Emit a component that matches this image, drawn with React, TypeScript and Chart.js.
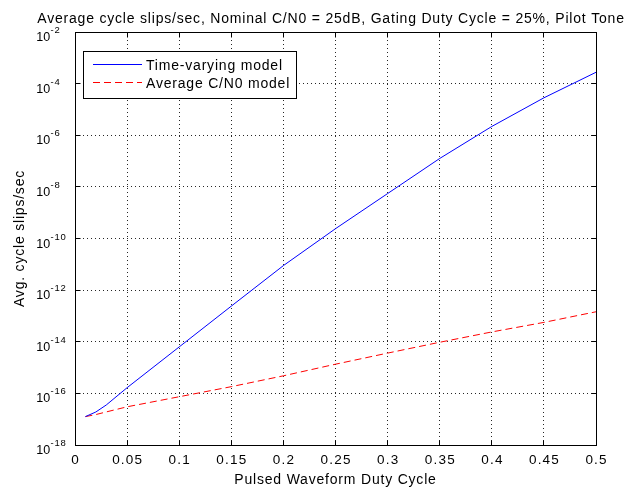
import React, { useEffect, useRef } from "react";
import { Chart, registerables } from "chart.js";

Chart.register(...registerables);

// Pulsed waveform duty cycle (x) and average cycle slips per second for both models
const dutyCycle = [0.01, 0.02, 0.03, 0.05, 0.1, 0.15, 0.2, 0.25, 0.3, 0.35, 0.4, 0.45, 0.5];
const timeVaryingSlips = [
  1.26e-17, 1.9e-17, 3.55e-17, 1.66e-16, 6.3e-15, 2.4e-13, 8.91e-12, 2.4e-10, 5.5e-9, 1.26e-7,
  2.19e-6, 2.82e-5, 2.75e-4,
];
const averageCN0Slips = [
  1.26e-17, 1.51e-17, 1.91e-17, 3.02e-17, 7.41e-17, 1.82e-16, 4.79e-16, 1.35e-15, 3.63e-15,
  9.55e-15, 2.4e-14, 5.62e-14, 1.45e-13,
];

const xTickValues = [0, 0.05, 0.1, 0.15, 0.2, 0.25, 0.3, 0.35, 0.4, 0.45, 0.5];
const xTickLabels = ["0", "0.05", "0.1", "0.15", "0.2", "0.25", "0.3", "0.35", "0.4", "0.45", "0.5"];
const yTickExponents = [-2, -4, -6, -8, -10, -12, -14, -16, -18];

const chartTitle =
  "Average cycle slips/sec, Nominal C/N0 = 25dB, Gating Duty Cycle = 25%, Pilot Tone";
const xAxisTitle = "Pulsed Waveform Duty Cycle";
const yAxisTitle = "Avg. cycle slips/sec";
const seriesNames = ["Time-varying model", "Average C/N0 model"];
const seriesColors = ["#0000ff", "#ff0000"];
const redDash = [7, 4];

const FONT = '"Liberation Sans", Arial, Helvetica, sans-serif';

function setSpacing(ctx: CanvasRenderingContext2D, px: number) {
  (ctx as any).letterSpacing = `${px}px`;
}

const crisp = (v: number) => Math.round(v - 0.5) + 0.5;

// Draws the framed axes, inward tick marks, labels, titles and the boxed legend
const matlabAxesPlugin = {
  id: "matlabAxes",
  afterDraw(chart: any) {
    const ctx: CanvasRenderingContext2D = chart.ctx;
    const { left, right, top, bottom } = chart.chartArea;
    const xs = chart.scales.x;
    const ys = chart.scales.y;
    const L = crisp(left);
    const R = crisp(right);
    const T = crisp(top);
    const B = crisp(bottom);

    ctx.save();
    ctx.strokeStyle = "#000";
    ctx.lineWidth = 1;
    ctx.setLineDash([]);

    // axes box
    ctx.strokeRect(L, T, R - L, B - T);

    // inward tick marks
    const tick = 5;
    ctx.beginPath();
    xTickValues.forEach((v) => {
      const px = crisp(xs.getPixelForValue(v));
      ctx.moveTo(px, B);
      ctx.lineTo(px, B - tick);
      ctx.moveTo(px, T);
      ctx.lineTo(px, T + tick);
    });
    yTickExponents.forEach((e) => {
      const py = crisp(ys.getPixelForValue(Math.pow(10, e)));
      ctx.moveTo(L, py);
      ctx.lineTo(L + tick, py);
      ctx.moveTo(R, py);
      ctx.lineTo(R - tick, py);
    });
    ctx.stroke();

    ctx.fillStyle = "#000";

    // x tick labels
    ctx.font = `13.5px ${FONT}`;
    setSpacing(ctx, 1.2);
    ctx.textAlign = "center";
    ctx.textBaseline = "alphabetic";
    xTickValues.forEach((v, i) => {
      ctx.fillText(xTickLabels[i], xs.getPixelForValue(v) + 0.6, 464);
    });

    // y tick labels as powers of ten
    yTickExponents.forEach((e) => {
      const py = ys.getPixelForValue(Math.pow(10, e));
      ctx.font = `12.5px ${FONT}`;
      setSpacing(ctx, 0.2);
      ctx.textAlign = "right";
      ctx.fillText("10", 50.5, py + 9);
      ctx.font = `9.5px ${FONT}`;
      setSpacing(ctx, 0.8);
      ctx.textAlign = "left";
      ctx.fillText(String(e), 50.5, py + 1);
    });

    // titles
    ctx.font = `14px ${FONT}`;
    setSpacing(ctx, 0.8);
    ctx.textAlign = "center";
    ctx.fillText(chartTitle, 331, 23);
    ctx.fillText(xAxisTitle, (left + right) / 2, 484);

    ctx.save();
    ctx.translate(24, (top + bottom) / 2);
    ctx.rotate(-Math.PI / 2);
    ctx.fillText(yAxisTitle, 0, 0);
    ctx.restore();

    // legend
    const lx = 83.5;
    const ly = 51.5;
    const lw = 213;
    const lh = 47;
    ctx.fillStyle = "#fff";
    ctx.fillRect(lx, ly, lw, lh);
    ctx.strokeStyle = "#000";
    ctx.strokeRect(lx, ly, lw, lh);

    const rows = [64.5, 82.5];
    rows.forEach((ry, i) => {
      ctx.beginPath();
      ctx.strokeStyle = seriesColors[i];
      ctx.setLineDash(i === 1 ? redDash : []);
      ctx.moveTo(93, ry);
      ctx.lineTo(142, ry);
      ctx.stroke();
      ctx.setLineDash([]);
      ctx.fillStyle = "#000";
      ctx.textAlign = "left";
      ctx.font = `14px ${FONT}`;
      setSpacing(ctx, 0.8);
      ctx.fillText(seriesNames[i], 146, ry + 5);
    });

    setSpacing(ctx, 0);
    ctx.restore();
  },
};

export default function App() {
  const canvasRef = useRef<HTMLCanvasElement | null>(null);

  useEffect(() => {
    const canvas = canvasRef.current;
    if (!canvas) return;

    const chart = new Chart(canvas, {
      type: "line",
      data: {
        datasets: [
          {
            label: seriesNames[0],
            data: dutyCycle.map((x, i) => ({ x, y: timeVaryingSlips[i] })),
            borderColor: seriesColors[0],
            borderWidth: 1,
            pointRadius: 0,
            tension: 0,
            fill: false,
          },
          {
            label: seriesNames[1],
            data: dutyCycle.map((x, i) => ({ x, y: averageCN0Slips[i] })),
            borderColor: seriesColors[1],
            borderWidth: 1,
            borderDash: redDash,
            pointRadius: 0,
            tension: 0,
            fill: false,
          },
        ],
      },
      options: {
        responsive: false,
        animation: false,
        devicePixelRatio: 1,
        layout: { padding: { left: 75, right: 33, top: 32, bottom: 46 } },
        plugins: {
          legend: { display: false },
          title: { display: false },
          tooltip: { enabled: false },
        },
        scales: {
          x: {
            type: "linear",
            min: 0,
            max: 0.5,
            afterBuildTicks: (s: any) => {
              s.ticks = xTickValues.map((value) => ({ value }));
            },
            afterFit: (s: any) => {
              s.height = 0;
            },
            ticks: { display: false },
            grid: { color: "rgba(0,0,0,0.85)", lineWidth: 1, drawTicks: false },
            border: { display: false, dash: [1, 3] },
          },
          y: {
            type: "logarithmic",
            min: 1e-18,
            max: 1e-2,
            afterBuildTicks: (s: any) => {
              s.ticks = yTickExponents.map((e) => ({ value: Math.pow(10, e) }));
            },
            afterFit: (s: any) => {
              s.width = 0;
            },
            ticks: { display: false },
            grid: { color: "rgba(0,0,0,0.85)", lineWidth: 1, drawTicks: false },
            border: { display: false, dash: [1, 3] },
          },
        },
      } as any,
      plugins: [matlabAxesPlugin],
    });

    return () => chart.destroy();
  }, []);

  return (
    <div style={{ position: "absolute", left: 0, top: 0, width: 629, height: 491, background: "#fff" }}>
      <canvas ref={canvasRef} width={629} height={491} style={{ display: "block" }} />
    </div>
  );
}
